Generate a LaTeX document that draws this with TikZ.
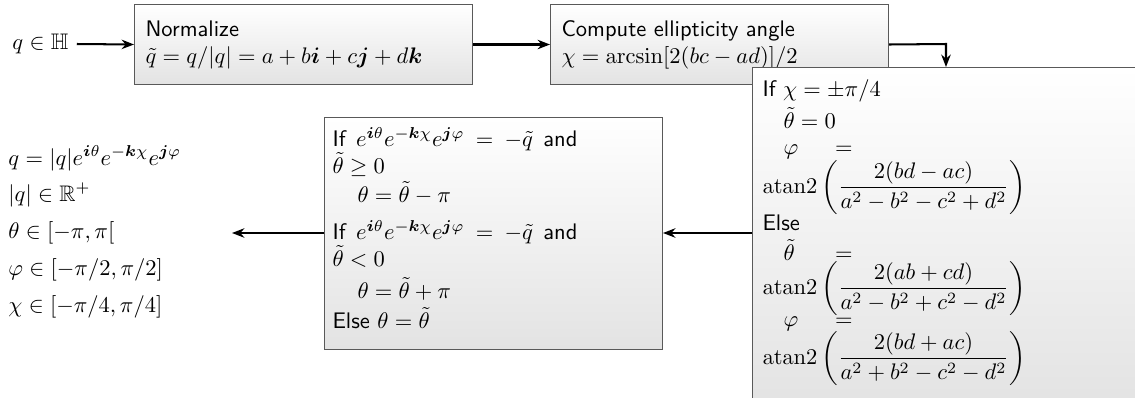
\documentclass[tikz,border=0pt]{standalone}
\usepackage{amsmath,amssymb}
\usetikzlibrary{arrows.meta,calc}
\newlength\pu
\setlength\pu{0.4444pt}
\newcommand{\qi}{\boldsymbol{i}}
\newcommand{\qj}{\boldsymbol{j}}
\newcommand{\qk}{\boldsymbol{k}}
\newcommand{\atantwo}{\operatorname{atan2}}
\newcommand{\eqfill}[1]{\hspace*{21\pu}\makebox[69\pu][l]{$#1$\hfill$=$}}
\newcommand{\fixlines}{\baselineskip=0pt\lineskiplimit=-\maxdimen\lineskip=0pt}
\newcommand{\firstat}[1]{\rule{0pt}{#1\pu}}
\begin{document}
\begin{tikzpicture}[x=\pu,y=-\pu,
  box/.style={draw=black!65, line width=0.45pt, top color=white, bottom color=black!11,
              inner ysep=0pt, font=\sffamily, anchor=north west},
  arr/.style={line width=0.9pt, -{Stealth[length=5.5pt,width=4.2pt]}}]
\useasboundingbox (0,0) rectangle (1135,398);
\clip (0,0) rectangle (1135,398);

\node[anchor=west, inner xsep=8\pu, inner ysep=0pt] (in) at (4,44) {$q\in\mathbb{H}$};

\node[box, inner xsep=11\pu] (norm) at (134,4)
  {\parbox[c][80\pu][t]{316\pu}{\fixlines\firstat{32}Normalize\\[27\pu]
     $\tilde q = q/|q| = a + b\qi + c\qj + d\qk$}};

\node[box, inner xsep=11\pu] (ell) at (550,4)
  {\parbox[c][80\pu][t]{316\pu}{\fixlines\firstat{32}Compute ellipticity angle\\[27\pu]
     $\chi = \arcsin[2(bc-ad)]/2$}};

\node[box, inner xsep=10\pu] (cases) at (752,67)
  {\parbox[c][340\pu][t]{380\pu}{\fixlines\firstat{29}%
    If $\chi = \pm\pi/4$\\[32\pu]
    \hspace*{21\pu}$\tilde\theta = 0$\\[26\pu]
    \eqfill{\varphi}\\[39\pu]
    $\atantwo\left(\dfrac{2(bd-ac)}{a^2-b^2-c^2+d^2}\right)$\\[37\pu]
    Else\\[30\pu]
    \eqfill{\tilde\theta}\\[34\pu]
    $\atantwo\left(\dfrac{2(ab+cd)}{a^2-b^2+c^2-d^2}\right)$\\[32\pu]
    \eqfill{\varphi}\\[38\pu]
    $\atantwo\left(\dfrac{2(bd+ac)}{a^2+b^2-c^2-d^2}\right)$}};

\node[box, inner xsep=8\pu] (sel) at (324,117)
  {\parbox[c][232\pu][t]{322\pu}{\fixlines\firstat{29}%
    \makebox[245\pu][s]{If $e^{\qi\theta}e^{-\qk\chi}e^{\qj\varphi} = -\tilde q$ and}\\[27\pu]
    $\tilde\theta \ge 0$\\[29\pu]
    \hspace*{25\pu}$\theta = \tilde\theta - \pi$\\[37\pu]
    \makebox[245\pu][s]{If $e^{\qi\theta}e^{-\qk\chi}e^{\qj\varphi} = -\tilde q$ and}\\[27\pu]
    $\tilde\theta < 0$\\[32\pu]
    \hspace*{25\pu}$\theta = \tilde\theta + \pi$\\[30\pu]
    Else $\theta = \tilde\theta$}};

\node[anchor=base west, inner sep=0pt] (res) at (8,165)
  {\parbox[t]{220\pu}{\fixlines
   $q = |q|e^{\qi\theta}e^{-\qk\chi}e^{\qj\varphi}$\\[36\pu]
   $|q| \in \mathbb{R}^+$\\[37\pu]
   $\theta \in [-\pi,\pi[$\\[37\pu]
   $\varphi \in [-\pi/2,\pi/2]$\\[37\pu]
   $\chi \in [-\pi/4,\pi/4]$}};

\coordinate (turn) at (946,44);
\coordinate (midy) at (0,233);
\coordinate (outtip) at (232,233);

\draw[arr] (in.east) -- (norm.west);
\draw[arr] (norm.east) -- (ell.west);
\draw[arr] (ell.east) -- (turn) -- (turn |- cases.north);
\draw[arr] (cases.west |- midy) -- (sel.east |- midy);
\draw[arr] (sel.west |- midy) -- (outtip);
\end{tikzpicture}
\end{document}
